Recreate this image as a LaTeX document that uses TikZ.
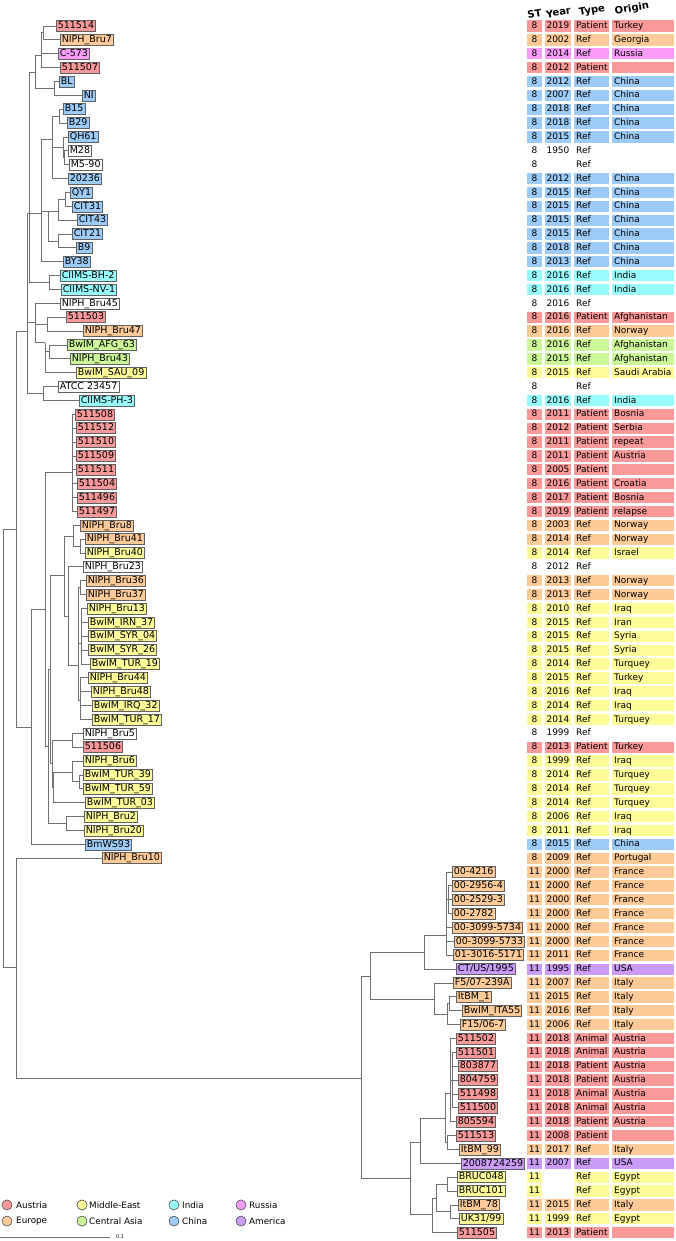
\documentclass[tikz,border=0pt]{standalone}
\usepackage{fontspec}
\setmainfont{DejaVu Sans}
\usepackage{xcolor}

\definecolor{austria}{HTML}{FA9999}
\definecolor{europe}{HTML}{FDCA98}
\definecolor{mideast}{HTML}{FDFC99}
\definecolor{centasia}{HTML}{CBF799}
\definecolor{india}{HTML}{99FCFC}
\definecolor{china}{HTML}{9CCBF7}
\definecolor{russia}{HTML}{F99CF9}
\definecolor{america}{HTML}{CA9CF7}
\definecolor{branch}{HTML}{707070}

\tikzset{
  leaf/.style={draw=gray!75!black, line width=0.6pt, anchor=west,
    font=\fontsize{9.5}{10}\selectfont, inner xsep=1.5pt, inner ysep=1pt,
    text height=7.2pt, text depth=1.8pt},
  cell/.style={inner sep=0pt, minimum height=11.3pt, text height=7pt, text depth=1.8pt},
  head/.style={font=\bfseries\fontsize{10}{11}\selectfont, rotate=10, inner sep=0pt},
  br/.style={draw=branch, line width=0.9pt},
  key/.style={circle, draw=gray!60!black, line width=0.6pt, minimum size=10pt, inner sep=0pt},
  keytext/.style={anchor=west, inner sep=0pt, font=\fontsize{8.8}{9}\selectfont},
}

% one strain: name, row, tip, colour, label, ST, year, type, origin
\newcommand{\strain}[9]{%
  \node[leaf, fill=#4] (#1) at (#3,#2) {#5};
  \node[cell, fill=#4, minimum width=15pt] at (534.5,#2) {#6};
  \if\relax\detokenize{#7}\relax\else
    \node[cell, fill=#4, minimum width=26pt] at (558,#2) {#7};\fi
  \node[cell, fill=#4, minimum width=35pt, anchor=west] at (574,#2) {};
  \node[cell, anchor=west] at (576,#2) {#8};
  \node[cell, fill=#4, minimum width=62pt, anchor=west] at (612,#2) {};
  \node[cell, anchor=west] at (614,#2) {#9};
}

\begin{document}
\begin{tikzpicture}[x=1pt, y=-13.87pt, font=\fontsize{9}{10}\selectfont]
  \useasboundingbox (0,-0.8746) rectangle (676,88.6);

  \node[head] (hST) at (534.5,0.12) {ST};
  \node[head] (hYear) at (558.5,0.02) {Year};
  \node[head] (hType) at (592,-0.08) {Type};
  \node[head] (hOrigin) at (632,-0.25) {Origin};

  % ST 8
  \strain{p514}{1}{56}{austria}{511514}{8}{2019}{Patient}{Turkey}
  \strain{bru7}{2}{60}{europe}{NIPH\_Bru7}{8}{2002}{Ref}{Georgia}
  \strain{c573}{3}{58}{russia}{C-573}{8}{2014}{Ref}{Russia}
  \strain{p507}{4}{60}{austria}{511507}{8}{2012}{Patient}{}
  \strain{bl}{5}{59}{china}{BL}{8}{2012}{Ref}{China}
  \strain{ni}{6}{82}{china}{NI}{8}{2007}{Ref}{China}
  \strain{b15}{7}{63}{china}{B15}{8}{2018}{Ref}{China}
  \strain{b29}{8}{67}{china}{B29}{8}{2018}{Ref}{China}
  \strain{qh61}{9}{68}{china}{QH61}{8}{2015}{Ref}{China}
  \strain{m28}{10}{68}{white}{M28}{8}{1950}{Ref}{}
  \strain{m590}{11}{69}{white}{M5-90}{8}{}{Ref}{}
  \strain{n20236}{12}{68}{china}{20236}{8}{2012}{Ref}{China}
  \strain{qy1}{13}{70}{china}{QY1}{8}{2015}{Ref}{China}
  \strain{cit31}{14}{72}{china}{CIT31}{8}{2015}{Ref}{China}
  \strain{cit43}{15}{77}{china}{CIT43}{8}{2015}{Ref}{China}
  \strain{cit21}{16}{72}{china}{CIT21}{8}{2015}{Ref}{China}
  \strain{b9}{17}{76}{china}{B9}{8}{2018}{Ref}{China}
  \strain{by38}{18}{63}{china}{BY38}{8}{2013}{Ref}{China}
  \strain{bh2}{19}{60}{india}{CIIMS-BH-2}{8}{2016}{Ref}{India}
  \strain{nv1}{20}{61}{india}{CIIMS-NV-1}{8}{2016}{Ref}{India}
  \strain{bru45}{21}{60}{white}{NIPH\_Bru45}{8}{2016}{Ref}{}
  \strain{p503}{22}{66}{austria}{511503}{8}{2016}{Patient}{Afghanistan}
  \strain{bru47}{23}{83}{europe}{NIPH\_Bru47}{8}{2016}{Ref}{Norway}
  \strain{afg63}{24}{67}{centasia}{BwIM\_AFG\_63}{8}{2016}{Ref}{Afghanistan}
  \strain{bru43}{25}{70}{centasia}{NIPH\_Bru43}{8}{2015}{Ref}{Afghanistan}
  \strain{sau09}{26}{76}{mideast}{BwIM\_SAU\_09}{8}{2015}{Ref}{Saudi Arabia}
  \strain{atcc}{27}{58}{white}{ATCC 23457}{8}{}{Ref}{}
  \strain{ph3}{28}{79}{india}{CIIMS-PH-3}{8}{2016}{Ref}{India}
  \strain{p508}{29}{75}{austria}{511508}{8}{2011}{Patient}{Bosnia}
  \strain{p512}{30}{76}{austria}{511512}{8}{2012}{Patient}{Serbia}
  \strain{p510}{31}{76}{austria}{511510}{8}{2011}{Patient}{repeat}
  \strain{p509}{32}{76}{austria}{511509}{8}{2011}{Patient}{Austria}
  \strain{p511}{33}{76}{austria}{511511}{8}{2005}{Patient}{}
  \strain{p504}{34}{77}{austria}{511504}{8}{2016}{Patient}{Croatia}
  \strain{p496}{35}{77}{austria}{511496}{8}{2017}{Patient}{Bosnia}
  \strain{p497}{36}{77}{austria}{511497}{8}{2019}{Patient}{relapse}
  \strain{bru8}{37}{80}{europe}{NIPH\_Bru8}{8}{2003}{Ref}{Norway}
  \strain{bru41}{38}{85}{europe}{NIPH\_Bru41}{8}{2014}{Ref}{Norway}
  \strain{bru40}{39}{85}{mideast}{NIPH\_Bru40}{8}{2014}{Ref}{Israel}
  \strain{bru23}{40}{83}{white}{NIPH\_Bru23}{8}{2012}{Ref}{}
  \strain{bru36}{41}{86}{europe}{NIPH\_Bru36}{8}{2013}{Ref}{Norway}
  \strain{bru37}{42}{86}{europe}{NIPH\_Bru37}{8}{2013}{Ref}{Norway}
  \strain{bru13}{43}{87}{mideast}{NIPH\_Bru13}{8}{2010}{Ref}{Iraq}
  \strain{irn37}{44}{88}{mideast}{BwIM\_IRN\_37}{8}{2015}{Ref}{Iran}
  \strain{syr04}{45}{88}{mideast}{BwIM\_SYR\_04}{8}{2015}{Ref}{Syria}
  \strain{syr26}{46}{88}{mideast}{BwIM\_SYR\_26}{8}{2015}{Ref}{Syria}
  \strain{tur19}{47}{90}{mideast}{BwIM\_TUR\_19}{8}{2014}{Ref}{Turquey}
  \strain{bru44}{48}{88}{mideast}{NIPH\_Bru44}{8}{2015}{Ref}{Turkey}
  \strain{bru48}{49}{91}{mideast}{NIPH\_Bru48}{8}{2016}{Ref}{Iraq}
  \strain{irq32}{50}{92}{mideast}{BwIM\_IRQ\_32}{8}{2014}{Ref}{Iraq}
  \strain{tur17}{51}{92}{mideast}{BwIM\_TUR\_17}{8}{2014}{Ref}{Turquey}
  \strain{bru5}{52}{83}{white}{NIPH\_Bru5}{8}{1999}{Ref}{}
  \strain{p506}{53}{83}{austria}{511506}{8}{2013}{Patient}{Turkey}
  \strain{bru6}{54}{83}{mideast}{NIPH\_Bru6}{8}{1999}{Ref}{Iraq}
  \strain{tur39}{55}{83}{mideast}{BwIM\_TUR\_39}{8}{2014}{Ref}{Turquey}
  \strain{tur59}{56}{83}{mideast}{BwIM\_TUR\_59}{8}{2014}{Ref}{Turquey}
  \strain{tur03}{57}{85}{mideast}{BwIM\_TUR\_03}{8}{2014}{Ref}{Turquey}
  \strain{bru2}{58}{84}{mideast}{NIPH\_Bru2}{8}{2006}{Ref}{Iraq}
  \strain{bru20}{59}{84}{mideast}{NIPH\_Bru20}{8}{2011}{Ref}{Iraq}
  \strain{ws93}{60}{85}{china}{BmWS93}{8}{2015}{Ref}{China}
  \strain{bru10}{61}{102}{europe}{NIPH\_Bru10}{8}{2009}{Ref}{Portugal}
  % ST 11
  \strain{f4216}{62}{452}{europe}{00-4216}{11}{2000}{Ref}{France}
  \strain{f2956}{63}{452}{europe}{00-2956-4}{11}{2000}{Ref}{France}
  \strain{f2529}{64}{452}{europe}{00-2529-3}{11}{2000}{Ref}{France}
  \strain{f2782}{65}{452}{europe}{00-2782}{11}{2000}{Ref}{France}
  \strain{f5734}{66}{452}{europe}{00-3099-5734}{11}{2000}{Ref}{France}
  \strain{f5733}{67}{454}{europe}{00-3099-5733}{11}{2000}{Ref}{France}
  \strain{f5171}{68}{453}{europe}{01-3016-5171}{11}{2011}{Ref}{France}
  \strain{ctus}{69}{456}{america}{CT/US/1995}{11}{1995}{Ref}{USA}
  \strain{f5}{70}{453}{europe}{F5/07-239A}{11}{2007}{Ref}{Italy}
  \strain{itbm1}{71}{456}{europe}{ItBM\_1}{11}{2015}{Ref}{Italy}
  \strain{ita55}{72}{462}{europe}{BwIM\_ITA55}{11}{2016}{Ref}{Italy}
  \strain{f15}{73}{460}{europe}{F15/06-7}{11}{2006}{Ref}{Italy}
  \strain{p502}{74}{456}{austria}{511502}{11}{2018}{Animal}{Austria}
  \strain{p501}{75}{456}{austria}{511501}{11}{2018}{Animal}{Austria}
  \strain{p877}{76}{458}{austria}{803877}{11}{2018}{Patient}{Austria}
  \strain{p759}{77}{458}{austria}{804759}{11}{2018}{Patient}{Austria}
  \strain{p498}{78}{458}{austria}{511498}{11}{2018}{Animal}{Austria}
  \strain{p500}{79}{458}{austria}{511500}{11}{2018}{Animal}{Austria}
  \strain{p594}{80}{456}{austria}{805594}{11}{2018}{Patient}{Austria}
  \strain{p513}{81}{456}{austria}{511513}{11}{2008}{Patient}{}
  \strain{itbm99}{82}{459}{europe}{ItBM\_99}{11}{2017}{Ref}{Italy}
  \strain{us259}{83}{461}{america}{2008724259}{11}{2007}{Ref}{USA}
  \strain{bruc048}{84}{457}{mideast}{BRUC048}{11}{}{Ref}{Egypt}
  \strain{bruc101}{85}{457}{mideast}{BRUC101}{11}{}{Ref}{Egypt}
  \strain{itbm78}{86}{458}{europe}{ItBM\_78}{11}{2015}{Ref}{Italy}
  \strain{uk31}{87}{459}{mideast}{UK31/99}{11}{1999}{Ref}{Egypt}
  \strain{p505}{88}{457}{austria}{511505}{11}{2013}{Patient}{}

  % inner nodes, ST 8
  \coordinate (a2) at (43,1.5);
  \coordinate (a1) at (41,3.1);
  \coordinate (b1) at (54,5.5);
  \coordinate (b0) at (35,4.32);
  \coordinate (c1) at (59,7.5);
  \coordinate (c3) at (64,10.5);
  \coordinate (c2) at (63,9.75);
  \coordinate (c4) at (52,9.2);
  \coordinate (d1) at (65,13.5);
  \coordinate (d2) at (58,14.34);
  \coordinate (d3) at (58,16.5);
  \coordinate (d4) at (48,14.34);
  \coordinate (e) at (41,14.48);
  \coordinate (f) at (49,19.5);
  \coordinate (g) at (29,14.48);
  \coordinate (i0) at (47,22.5);
  \coordinate (i1) at (49,24.5);
  \coordinate (i2) at (45,23.85);
  \coordinate (j) at (35,22.4);
  \coordinate (k) at (43,27.5);
  \coordinate (h) at (27,23);
  \coordinate (p) at (72,33.2);
  \coordinate (r1) at (80,38.5);
  \coordinate (r0) at (73,37.77);
  \coordinate (u1) at (80,41.5);
  \coordinate (u2) at (81,45.5);
  \coordinate (u3) at (80,49.6);
  \coordinate (u) at (78,47.1);
  \coordinate (t) at (68,43.6);
  \coordinate (s) at (64,40.58);
  \coordinate (v1) at (72,52.5);
  \coordinate (v5) at (79,55.5);
  \coordinate (v2) at (72,54.8);
  \coordinate (v3) at (53,55.9);
  \coordinate (x2) at (52,54.2);
  \coordinate (x1) at (50,47.4);
  \coordinate (v4) at (66,58.5);
  \coordinate (w) at (48,52.95);
  \coordinate (q) at (45,43.1);
  \coordinate (n) at (31,51.55);
  \coordinate (m) at (16,37.3);
  \coordinate (m2) at (16,68.9);
  \coordinate (root) at (3,53.1);
  % inner nodes, ST 11
  \coordinate (S) at (361,76.85);
  \coordinate (T) at (370,69.5);
  \coordinate (U) at (410,84.06);
  \coordinate (F) at (424,67.8);
  \coordinate (I) at (434,71.15);
  \coordinate (Fr) at (446,66.6);
  \coordinate (Fr2) at (448,64);
  \coordinate (I2) at (447,72.3);
  \coordinate (I3) at (449,71.5);
  \coordinate (V) at (420,81.46);
  \coordinate (W) at (432,86.7);
  \coordinate (V1) at (445,79.73);
  \coordinate (V2) at (450,77.93);
  \coordinate (V2b) at (452,77);
  \coordinate (V3) at (447,81.5);
  \coordinate (W1) at (436,85.5);
  \coordinate (W2) at (447,84.5);
  \coordinate (W3) at (450,86.5);

  \draw[br] (a2) |- (p514) (a2) |- (bru7);
  \draw[br] (a1) |- (a2) (a1) |- (c573) (a1) |- (p507);
  \draw[br] (b1) |- (bl) (b1) |- (ni);
  \draw[br] (b0) |- (a1) (b0) |- (b1);
  \draw[br] (c1) |- (b15) (c1) |- (b29);
  \draw[br] (c3) |- (m28) (c3) |- (m590);
  \draw[br] (c2) |- (qh61) (c2) |- (c3);
  \draw[br] (c4) |- (c1) (c4) |- (c2) (c4) |- (n20236);
  \draw[br] (d1) |- (qy1) (d1) |- (cit31);
  \draw[br] (d2) |- (d1) (d2) |- (cit43);
  \draw[br] (d3) |- (cit21) (d3) |- (b9);
  \draw[br] (d4) |- (d2) (d4) |- (d3);
  \draw[br] (e) |- (c4) (e) |- (d4) (e) |- (by38);
  \draw[br] (f) |- (bh2) (f) |- (nv1);
  \draw[br] (g) |- (b0) (g) |- (e) (g) |- (f);
  \draw[br] (i0) |- (p503) (i0) |- (bru47);
  \draw[br] (i1) |- (afg63) (i1) |- (bru43);
  \draw[br] (i2) |- (i1) (i2) |- (sau09);
  \draw[br] (j) |- (bru45) (j) |- (i0) (j) |- (i2);
  \draw[br] (k) |- (atcc) (k) |- (ph3);
  \draw[br] (h) |- (g) (h) |- (j) (h) |- (k);
  \draw[br] (p) |- (p508) (p) |- (p512) (p) |- (p510) (p) |- (p509)
    (p) |- (p511) (p) |- (p504) (p) |- (p496) (p) |- (p497);
  \draw[br] (r1) |- (bru41) (r1) |- (bru40);
  \draw[br] (r0) |- (bru8) (r0) |- (r1);
  \draw[br] (u1) |- (bru36) (u1) |- (bru37);
  \draw[br] (u2) |- (bru13) (u2) |- (irn37) (u2) |- (syr04) (u2) |- (syr26)
    (u2) |- (tur19);
  \draw[br] (u3) |- (bru44) (u3) |- (bru48) (u3) |- (irq32) (u3) |- (tur17);
  \draw[br] (u) |- (u1) (u) |- (u2) (u) |- (u3);
  \draw[br] (t) |- (bru23) (t) |- (u);
  \draw[br] (s) |- (r0) (s) |- (t);
  \draw[br] (v1) |- (bru5) (v1) |- (p506);
  \draw[br] (v5) |- (tur39) (v5) |- (tur59);
  \draw[br] (v2) |- (bru6) (v2) |- (v5);
  \draw[br] (v3) |- (v2) (v3) |- (tur03);
  \draw[br] (x2) |- (v1) (x2) |- (v3);
  \draw[br] (x1) |- (s) (x1) |- (x2);
  \draw[br] (v4) |- (bru2) (v4) |- (bru20);
  \draw[br] (w) |- (x1) (w) |- (v4);
  \draw[br] (q) |- (p) (q) |- (w);
  \draw[br] (n) |- (q) (n) |- (ws93);
  \draw[br] (m) |- (h) (m) |- (n);
  \draw[br] (root) |- (m) (root) |- (m2);
  \draw[br] (m2) |- (bru10) (m2) |- (S);

  \draw[br] (S) |- (T) (S) |- (U);
  \draw[br] (T) |- (F) (T) |- (I);
  \draw[br] (Fr2) |- (f2956) (Fr2) |- (f2529) (Fr2) |- (f2782);
  \draw[br] (Fr) |- (f4216) (Fr) |- (Fr2) (Fr) |- (f5734) (Fr) |- (f5733)
    (Fr) |- (f5171);
  \draw[br] (F) |- (Fr) (F) |- (ctus);
  \draw[br] (I3) |- (itbm1) (I3) |- (ita55);
  \draw[br] (I2) |- (I3) (I2) |- (f15);
  \draw[br] (I) |- (f5) (I) |- (I2);
  \draw[br] (V2b) |- (p501) (V2b) |- (p877) (V2b) |- (p759) (V2b) |- (p498)
    (V2b) |- (p500);
  \draw[br] (V2) |- (p502) (V2) |- (V2b) (V2) |- (p594);
  \draw[br] (V3) |- (p513) (V3) |- (itbm99);
  \draw[br] (V1) |- (V2) (V1) |- (V3);
  \draw[br] (V) |- (V1) (V) |- (us259);
  \draw[br] (W2) |- (bruc048) (W2) |- (bruc101);
  \draw[br] (W3) |- (itbm78) (W3) |- (uk31);
  \draw[br] (W1) |- (W2) (W1) |- (W3);
  \draw[br] (W) |- (W1) (W) |- (p505);
  \draw[br] (U) |- (V) (U) |- (W);

  % legend
  \node[key, fill=austria] (kA) at (7,86) {};
  \node[keytext] (tA) at (16,86) {Austria};
  \node[key, fill=europe] (kE) at (7,87.16) {};
  \node[keytext] (tE) at (16,87.16) {Europe};
  \node[key, fill=mideast] (kM) at (82,86) {};
  \node[keytext] (tM) at (89,86) {Middle-East};
  \node[key, fill=centasia] (kC) at (82,87.16) {};
  \node[keytext] (tC) at (89,87.16) {Central Asia};
  \node[key, fill=india] (kI) at (174,86) {};
  \node[keytext] (tI) at (182,86) {India};
  \node[key, fill=china] (kCh) at (174,87.16) {};
  \node[keytext] (tCh) at (182,87.16) {China};
  \node[key, fill=russia] (kR) at (241,86) {};
  \node[keytext] (tR) at (249,86) {Russia};
  \node[key, fill=america] (kAm) at (241,87.16) {};
  \node[keytext] (tAm) at (249,87.16) {America};

  % scale
  \coordinate (sb0) at (0,88.31);
  \coordinate (sb1) at (110,88.31);
  \draw[draw=branch, line width=0.6pt] (sb0) -- (sb1);
  \node[anchor=west, inner sep=0pt, font=\fontsize{5}{6}\selectfont] (sbt) at (116,88.31) {0.1};
\end{tikzpicture}
\end{document}
